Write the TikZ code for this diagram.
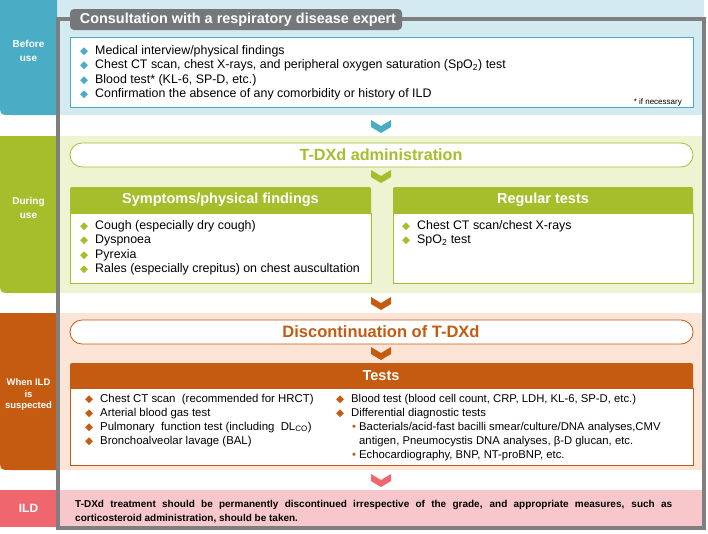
\documentclass[tikz,border=0pt]{standalone}
\usepackage{fontspec}
\setmainfont{Liberation Sans}
\newfontfamily\symfont{DejaVu Sans}
\usetikzlibrary{positioning}

\definecolor{tealdark}{RGB}{75,172,198}
\definecolor{teallight}{RGB}{211,234,240}
\definecolor{grn}{RGB}{166,190,44}
\definecolor{grnlight}{RGB}{238,243,210}
\definecolor{orng}{RGB}{197,90,17}
\definecolor{ornglight}{RGB}{252,229,214}
\definecolor{pinkdark}{RGB}{240,102,110}
\definecolor{pinklight}{RGB}{247,199,203}
\definecolor{framegray}{RGB}{127,127,127}
\definecolor{headgray}{RGB}{118,119,123}

\newcommand{\bul}[1]{\makebox[15pt][l]{\textcolor{#1}{\symfont\fontsize{10.5}{10.5}\selectfont ◆}}}
\newcommand{\dotbul}{\makebox[7pt][l]{\textcolor{orng}{\textbullet}}}
\newcommand{\chevron}[3]{\fill[#1] (#2-10,#3) -- (#2,#3+6) -- (#2+10,#3) -- (#2+10,#3+7) -- (#2,#3+13) -- (#2-10,#3+7) -- cycle;}

\tikzset{
    stage/.style={font=\bfseries\fontsize{10}{14}\selectfont, text=white, align=center, inner sep=0pt},
    body/.style={anchor=base west, inner sep=0pt, align=left, font=\fontsize{12.4}{14.5}\selectfont},
    head/.style={font=\bfseries\fontsize{14.5}{16}\selectfont, text=white, inner sep=0pt},
    pilltext/.style={font=\bfseries\fontsize{16.2}{18}\selectfont, text=#1, inner sep=0pt}
}

\begin{document}
\begin{tikzpicture}[x=1pt,y=-1pt]
    \useasboundingbox (0,0) rectangle (708,533);

    % bands
    \fill[teallight] (57,0) rectangle (704,115);
    \fill[grnlight] (57,136) rectangle (704,293);
    \fill[ornglight] (57,313) rectangle (704,470);
    \fill[pinklight] (57,490) rectangle (704,527);
    \fill[tealdark] (0,0) -- (57,0) -- (57,115) -- (12,115) .. controls (0,115) .. (0,103) -- cycle;
    \fill[grn] (0,136) -- (57,136) -- (57,293) -- (12,293) .. controls (0,293) .. (0,281) -- cycle;
    \fill[orng] (0,313) -- (57,313) -- (57,470) -- (12,470) .. controls (0,470) .. (0,458) -- cycle;
    \fill[pinkdark] (0,490) rectangle (57,527);
    \node[stage] (before) at (28.5,51) {Before\\use};
    \node[stage] (during) at (28.5,208) {During\\use};
    \node[stage, font=\bfseries\fontsize{9.5}{11.5}\selectfont] (susp) at (28.5,395) {When ILD\\is\\suspected};
    \node[stage, font=\bfseries\fontsize{12}{14}\selectfont] (ild) at (28.5,508) {ILD};

    % frame
    \draw[framegray, line width=3.5pt] (58,19) rectangle (704,528);

    % before use
    \fill[headgray, rounded corners=4pt] (70,9) rectangle (402,30);
    \node[head, font=\bfseries\fontsize{14.4}{16}\selectfont] (expert) at (238,19.5) {Consultation with a respiratory disease expert};
    \draw[tealdark, fill=white, line width=0.8pt] (70,37) rectangle (693,107);
    \node[body] (prior) at (80,97.5) {\bul{tealdark}Medical interview/physical findings\\
        \bul{tealdark}Chest CT scan, chest X-rays, and peripheral oxygen saturation (SpO\textsubscript{2}) test\\
        \bul{tealdark}Blood test* (KL-6, SP-D, etc.)\\
        \bul{tealdark}Confirmation the absence of any comorbidity or history of ILD};
    \node[anchor=base east, inner sep=0pt, font=\fontsize{8}{9}\selectfont] (note) at (682,104) {* if necessary};
    \chevron{tealdark}{381}{120}

    % during use
    \draw[grn, fill=white, line width=0.8pt, rounded corners=12pt] (70,143) rectangle (693,167);
    \node[pilltext=grn] (admin) at (381,155) {T-DXd administration};
    \chevron{grn}{381}{170}
    \fill[grn, rounded corners=2pt] (70,187) rectangle (371,215);
    \fill[grn, rounded corners=2pt] (393,187) rectangle (693,215);
    \draw[grn, fill=white, line width=0.8pt] (70,213) rectangle (371,283);
    \draw[grn, fill=white, line width=0.8pt] (393,213) rectangle (693,283);
    \node[head] (sympt) at (220.5,200) {Symptoms/physical findings};
    \node[head] (regular) at (543,200) {Regular tests};
    \node[body] (symlist) at (80,272.5) {\bul{grn}Cough (especially dry cough)\\
        \bul{grn}Dyspnoea\\
        \bul{grn}Pyrexia\\
        \bul{grn}Rales (especially crepitus) on chest auscultation};
    \node[body] (reglist) at (402,243.5) {\bul{grn}Chest CT scan/chest X-rays\\
        \bul{grn}SpO\textsubscript{2} test};
    \chevron{orng}{381}{297}

    % when ILD is suspected
    \draw[orng, fill=white, line width=0.8pt, rounded corners=12pt] (70,320) rectangle (693,344);
    \node[pilltext=orng, font=\bfseries\fontsize{16.5}{18}\selectfont] (stop) at (381,332) {Discontinuation of T-DXd};
    \chevron{orng}{381}{347}
    \fill[orng, rounded corners=2pt] (70,363) rectangle (693,390);
    \draw[orng, fill=white, line width=0.8pt] (70,388) rectangle (693,465);
    \node[head] (tests) at (381,376) {Tests};
    \node[body, font=\fontsize{11.4}{14}\selectfont] (testleft) at (85,444) {\bul{orng}Chest CT scan\ \ (recommended for HRCT)\\
        \bul{orng}Arterial blood gas test\\
        \bul{orng}Pulmonary\ \ function test (including\ \ DL\textsubscript{CO})\\
        \bul{orng}Bronchoalveolar lavage (BAL)};
    \node[body, font=\fontsize{11.3}{14}\selectfont] (testright) at (336,458) {\bul{orng}Blood test (blood cell count, CRP, LDH, KL-6, SP-D, etc.)\\
        \bul{orng}Differential diagnostic tests\\
        \hspace{16pt}\dotbul Bacterials/acid-fast bacilli smear/culture/DNA analyses,CMV\\
        \hspace{23pt}antigen, Pneumocystis DNA analyses, β-D glucan, etc.\\
        \hspace{16pt}\dotbul Echocardiography, BNP, NT-proBNP, etc.};
    \chevron{pinkdark}{381}{474}

    % ILD
    \node[body, font=\bfseries\fontsize{10}{14}\selectfont] (ildtext) at (75,521) {\makebox[597pt][s]{T-DXd treatment should be permanently discontinued irrespective of the grade, and appropriate measures, such as}\\
        corticosteroid administration, should be taken.};
\end{tikzpicture}
\end{document}
